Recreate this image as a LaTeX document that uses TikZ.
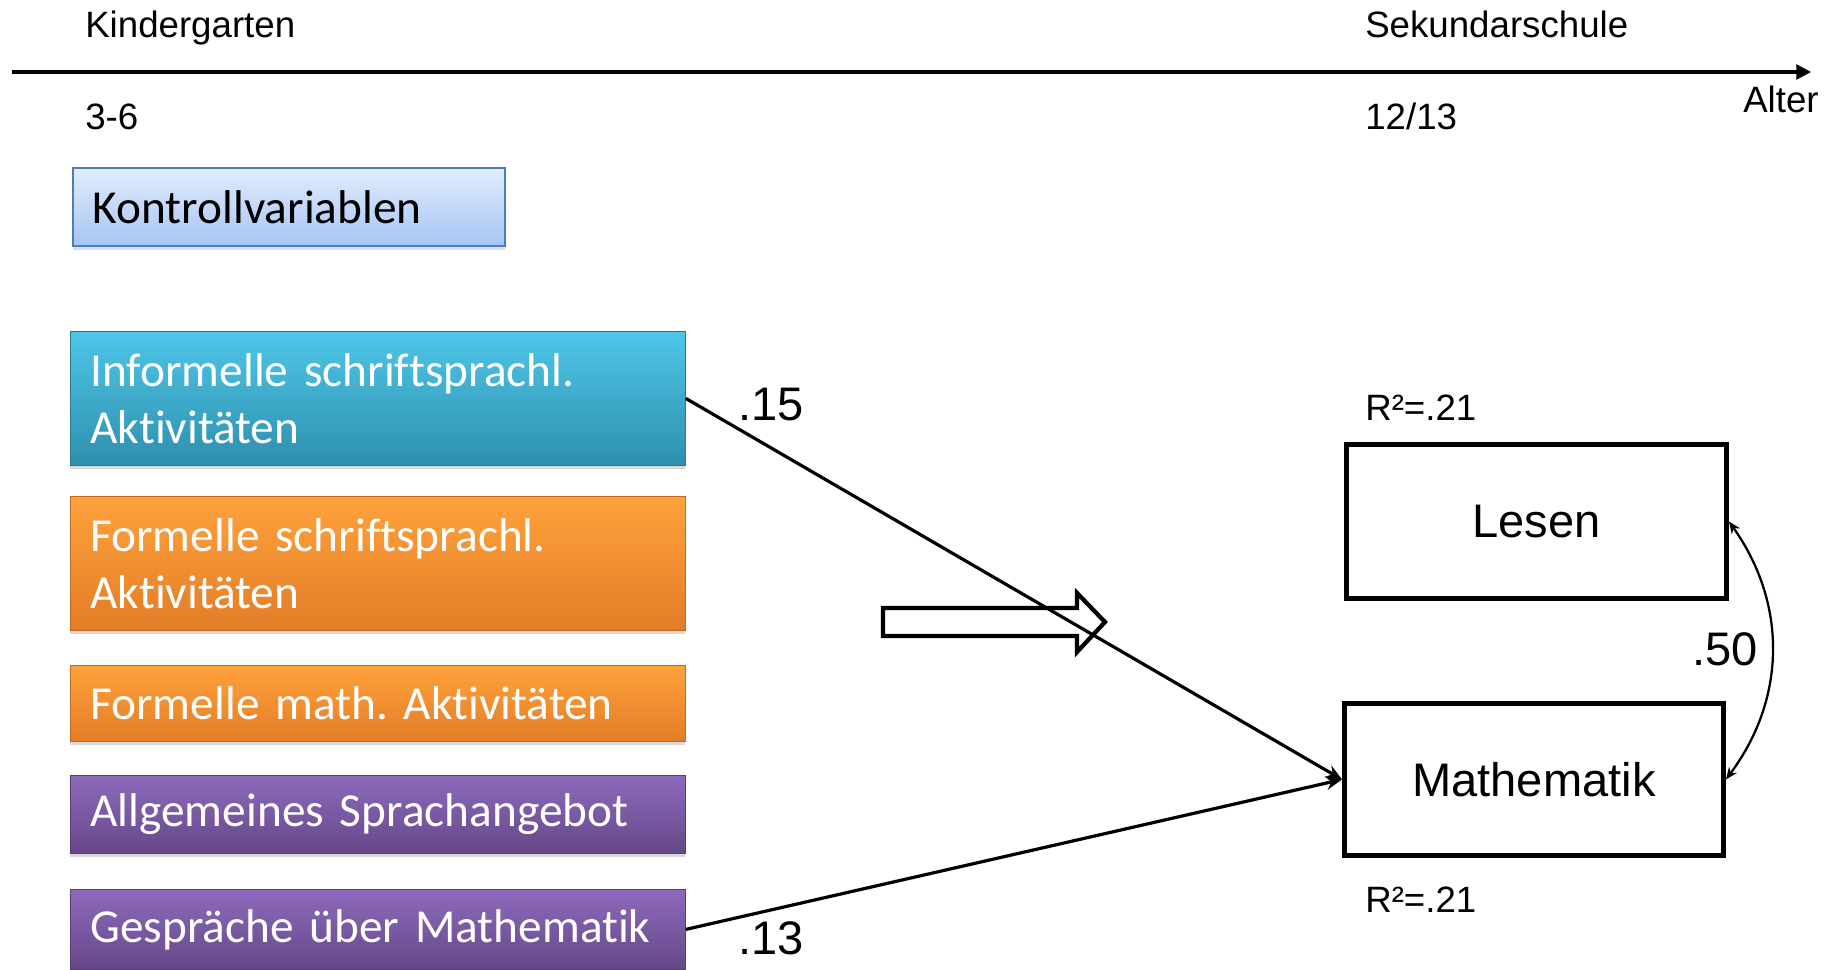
\documentclass[tikz,border=0pt]{standalone}
\usepackage{fontspec}
\setmainfont{Liberation Sans}
\newfontfamily\calib[Ligatures=NoCommon]{Carlito}
\usetikzlibrary{shadows,arrows.meta}
\definecolor{cyanT}{HTML}{4FC6E8}
\definecolor{cyanB}{HTML}{2E8FAE}
\definecolor{orT}{HTML}{FFA23C}
\definecolor{orB}{HTML}{E27D27}
\definecolor{puT}{HTML}{8D6ABD}
\definecolor{puB}{HTML}{654887}
\definecolor{kvT}{HTML}{E2ECFD}
\definecolor{kvB}{HTML}{A6C5F5}
\definecolor{kvD}{HTML}{4A7EBB}
\frenchspacing
\begin{document}
\begin{tikzpicture}[x=0.75pt,y=-0.75pt,
  lbl/.style={font=\fontsize{27.5}{33}\selectfont, inner sep=0pt, anchor=base west},
  biglbl/.style={font=\fontsize{35.3}{42}\selectfont, inner sep=0pt, anchor=base west},
  cbox/.style={rectangle, anchor=north west, minimum width=461.25pt, text width=431.25pt,
    align=left, inner xsep=15pt, inner ysep=0pt, text=white,
    font=\calib\frenchspacing\fontsize{35.5}{42.75}\selectfont,
    drop shadow={shadow xshift=0pt, shadow yshift=-3pt, opacity=0.3}},
  cyanbox/.style={cbox, top color=cyanT, bottom color=cyanB, draw=cyanB!85!black, line width=0.6pt},
  orbox/.style={cbox, top color=orT, bottom color=orB, draw=orB!85!black, line width=0.6pt},
  pubox/.style={cbox, top color=puT, bottom color=puB, draw=puB!85!black, line width=0.6pt},
  outbox/.style={rectangle, draw=black, line width=3.7pt, fill=white,
    font=\fontsize{35.3}{42}\selectfont},
  conn/.style={line width=2.4pt, -{Stealth[length=12pt,width=10pt]}},
]
\useasboundingbox (0,0) rectangle (1830,970);

% timeline
\coordinate (tl0) at (12,72);
\coordinate (tl1) at (1811,72);
\draw[line width=2.5pt, -{Triangle[length=11pt,width=11pt]}] (tl0) -- (tl1);
\node[lbl] (kg) at (85,38) {Kindergarten};
\node[lbl] (sk) at (1365,38) {Sekundarschule};
\node[lbl] (a36) at (85,130) {3-6};
\node[lbl] (a1213) at (1365,130) {12/13};
\node[lbl] (alt) at (1743,113) {Alter};

% control variables
\node[rectangle, anchor=north west, minimum width=324pt, minimum height=58.5pt,
  text width=294pt, align=left, inner xsep=15pt, inner ysep=0pt,
  top color=kvT, bottom color=kvB, draw=kvD, line width=1.2pt,
  font=\calib\fontsize{35.5}{42.75}\selectfont,
  drop shadow={shadow xshift=0pt, shadow yshift=-3pt, opacity=0.25}]
  (kv) at (72,167) {Kontrollvariablen};

% predictor boxes
\node[cyanbox, minimum height=100.5pt] (inf) at (70,331) {Informelle schriftsprachl.\\Aktivitäten};
\node[orbox, minimum height=100.5pt] (fsp) at (70,496) {Formelle schriftsprachl.\\Aktivitäten};
\node[orbox, minimum height=57pt] (fma) at (70,665) {Formelle math. Aktivitäten};
\node[pubox, minimum height=58.5pt] (asp) at (70,775) {Allgemeines Sprachangebot};
\node[pubox, minimum height=60pt] (ges) at (70,889) {Gespräche über Mathematik};

% outcome boxes
\node[outbox, anchor=north west, minimum width=285pt, minimum height=115.5pt] (les) at (1344,442) {Lesen};
\node[outbox, anchor=north west, minimum width=284.25pt, minimum height=114pt] (mat) at (1342,701) {Mathematik};

% block arrow
\draw[line width=3.2pt, fill=white, line join=miter]
  (883,608) -- (1077,608) -- (1077,593) -- (1105,622) -- (1077,652) -- (1077,636) -- (883,636) -- cycle;

% paths
\draw[conn] (inf.east) -- (mat.west);
\draw[conn] (ges.east) -- (mat.west);
\draw[line width=1.7pt, {Stealth[length=9pt,width=7.5pt]}-{Stealth[length=9pt,width=7.5pt]}]
  (les.east) to[bend left=36] (mat.east);

% coefficients
\node[biglbl] (c15) at (738,420) {.15};
\node[biglbl] (c13) at (738,954) {.13};
\node[biglbl] (c50) at (1692,665) {.50};
\node[lbl] (r2a) at (1365,420) {R²=.21};
\node[lbl] (r2b) at (1365,912) {R²=.21};
\end{tikzpicture}
\end{document}
